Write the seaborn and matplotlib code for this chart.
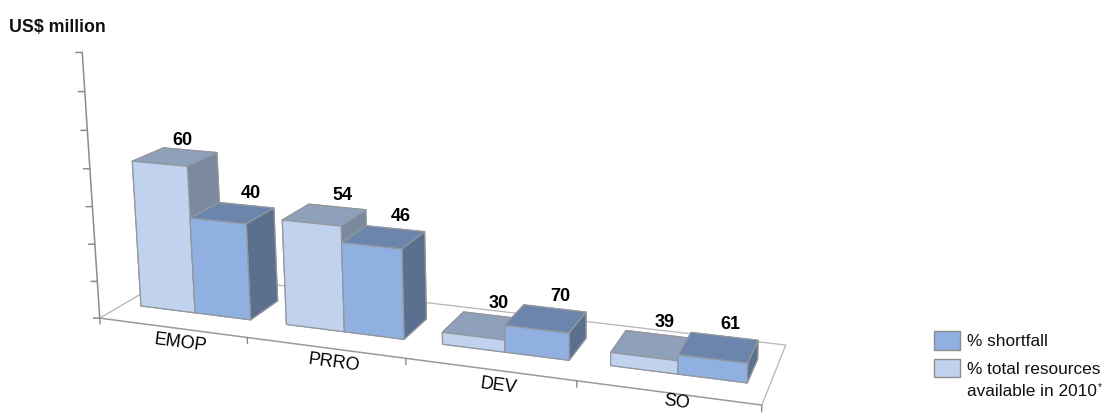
import matplotlib
matplotlib.use("Agg")
import matplotlib.pyplot as plt
from matplotlib.patches import Rectangle
from mpl_toolkits.mplot3d import proj3d
import seaborn as sns

# Funding by programme category, US$ million
categories = ["EMOP", "PRRO", "DEV", "SO"]
available_usd = [1980, 1390, 155, 165]
shortfall_usd = [1290, 1175, 345, 240]
# Share of each category's requirement, in percent
available_pct = [60, 54, 30, 39]
shortfall_pct = [40, 46, 70, 61]
z_ticks = [0, 500, 1000, 1500, 2000, 2500, 3000, 3500]

WIDTH, HEIGHT = 1104, 413
BAR_W, BAR_D, BAR_Y = 0.38, 0.40, 0.30
LINE_GREY = "#8c8c8c"

# Per-face colours in bar3d's order: bottom, top, front, back, left, right
AVAILABLE_FACES = ["#c0d2ee", "#8ea0ba", "#c0d2ee", "#7a899e", "#7a899e", "#7a899e"]
SHORTFALL_FACES = ["#8fb0e0", "#6c85ac", "#8fb0e0", "#5b708f", "#5b708f", "#5b708f"]

sns.set_theme(style="white")
plt.rcParams["font.family"] = ["Liberation Sans", "DejaVu Sans"]

fig = plt.figure(figsize=(WIDTH / 100, HEIGHT / 100), dpi=100)


def fx(px):
    return px / WIDTH


def fy(py):
    return 1 - py / HEIGHT


# Oversized square axes: the camera looks at the centre of a box larger than the chart
side = 1128.2
ax = fig.add_axes([-9.5 / WIDTH, -211.5 / HEIGHT, side / WIDTH, side / HEIGHT],
                  projection="3d", computed_zorder=False)
ax.set_box_aspect((1.7422, 0.4428, 1.0784))
ax.set_xlim(0, 5.487, view_margin=0)
ax.set_ylim(0, 1.703, view_margin=0)
ax.set_zlim(0, 7306, view_margin=0)
ax.view_init(elev=10.62, azim=-72.7)
ax.set_proj_type("persp", focal_length=0.2273)
ax.set_axis_off()

n = len(categories)


def put_text(x, y, z, s, **style):
    # Project the 3D anchor to the axes' 2D plane so the text keeps its own rotation
    px, py, _ = proj3d.proj_transform(x, y, z, ax.get_proj())
    return ax.text2D(px, py, s, transform=ax.transData, **style)


# Floor outline
ax.plot([0, 0, n, n], [0, 1, 1, 0], [0, 0, 0, 0], color="#b5b5b5", lw=0.9, zorder=1)
ax.plot([0, n], [0, 0], [0, 0], color="#9a9a9a", lw=1.1, zorder=2)

# Category ticks hang below the front edge
for i in range(n + 1):
    ax.plot([i, i], [0, 0], [0, -80], color=LINE_GREY, lw=1.0, zorder=2)

# Vertical axis with unlabelled ticks
ax.plot([0, 0], [0, 0], [z_ticks[0], z_ticks[-1]], color=LINE_GREY, lw=1.1, zorder=2)
for z in z_ticks:
    ax.plot([-0.036, 0], [-0.014, 0], [z, z], color=LINE_GREY, lw=1.1, zorder=2)

order = 3
for i in range(n):
    ax.bar3d(i + 0.12, BAR_Y, 0, BAR_W, BAR_D, available_usd[i], color=AVAILABLE_FACES,
             shade=False, edgecolor="#93979e", linewidth=0.9, zorder=order)
    ax.bar3d(i + 0.12 + BAR_W, BAR_Y, 0, BAR_W, BAR_D, shortfall_usd[i], color=SHORTFALL_FACES,
             shade=False, edgecolor="#93979e", linewidth=0.9, zorder=order + 1)
    order += 2

label_style = dict(ha="center", va="center", fontsize=13, fontweight="bold",
                   color="black", zorder=50)
# The tallest bar's label sits a little further left and closer than the others
for i in range(n):
    shift = -0.05 if i == 0 else 0.035
    lift = 130 if i == 0 else 165
    put_text(i + 0.12 + BAR_W / 2 + shift, BAR_Y + BAR_D, available_usd[i] + lift,
             str(available_pct[i]), **label_style)
    put_text(i + 0.12 + 1.5 * BAR_W + 0.035, BAR_Y + BAR_D, shortfall_usd[i] + 165,
             str(shortfall_pct[i]), **label_style)
    # The last label would otherwise run into the bottom of the figure
    drop = -105 if i == n - 1 else -190
    put_text(i + 0.55, 0, drop, categories[i], ha="center", va="center", fontsize=13,
             rotation=-7.5, rotation_mode="anchor", color="black", zorder=50)

# Heading and legend
fig.text(fx(9), fy(27), "US$ million", fontsize=12.8, fontweight="bold",
         color="#111111", ha="left", va="center")

swatches = [(331, 19, SHORTFALL_FACES[0]), (359, 18, AVAILABLE_FACES[0])]
for top, h, colour in swatches:
    fig.add_artist(Rectangle((fx(934), fy(top + h)), 26 / WIDTH, h / HEIGHT,
                             transform=fig.transFigure, facecolor=colour,
                             edgecolor="#8c8c8c", linewidth=1.0))
fig.text(fx(967), fy(341), "% shortfall", fontsize=12.4, color="#111111",
         ha="left", va="center")
fig.text(fx(967), fy(370), "% total resources", fontsize=12.4, color="#111111",
         ha="left", va="center")
fig.text(fx(967), fy(391), "available in 2010", fontsize=12.4, color="#111111",
         ha="left", va="center")
fig.text(fx(1098), fy(387), "*", fontsize=7, color="#111111", ha="left", va="center")

fig.savefig("out.png", dpi=100)
